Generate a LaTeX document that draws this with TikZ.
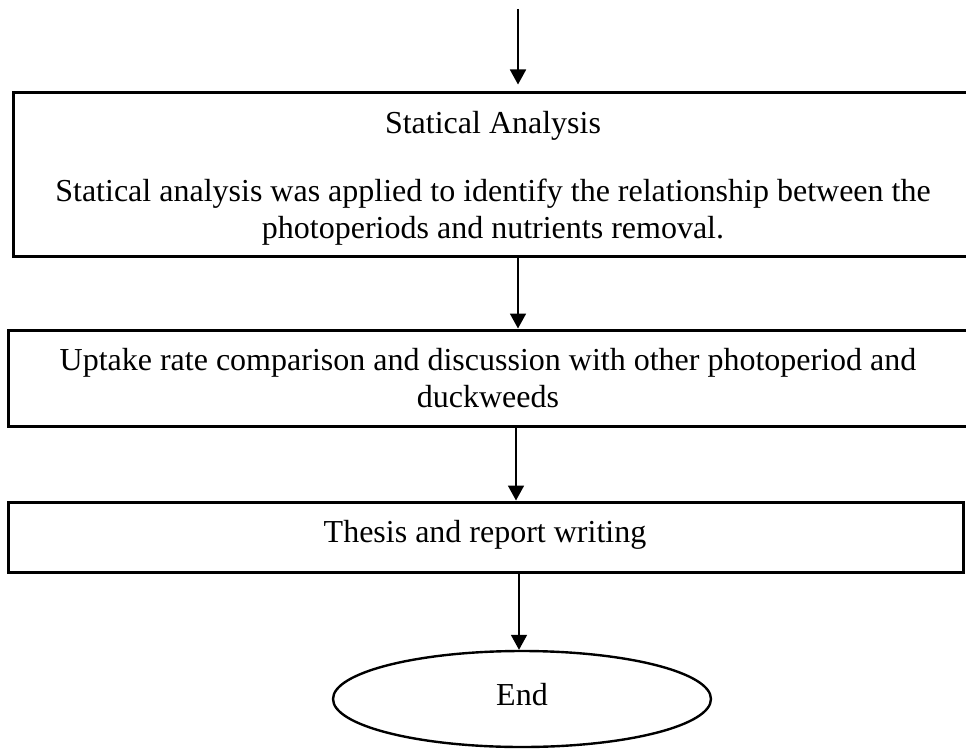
\documentclass[tikz,border=0pt]{standalone}
\usepackage{fontspec}
\setmainfont{Liberation Serif}
\usetikzlibrary{arrows.meta,shapes.geometric}
\begin{document}
\begin{tikzpicture}[x=1pt,y=-1pt,
  boxnode/.style={draw=black,line width=3pt,rectangle,inner sep=0pt},
  txt/.style={anchor=base,inner sep=0pt,font=\fontsize{32}{37}\selectfont},
  conn/.style={line width=1.8pt,-{Triangle[length=15pt,width=16pt]}},
  endnode/.style={draw=black,line width=2.4pt,ellipse,inner sep=0pt,minimum width=378pt,minimum height=96pt}]
\useasboundingbox (0,0) rectangle (966,752);
% boxes
\node[boxnode,minimum width=959pt,minimum height=164pt] (b1) at (492.5,174) {};
\node[boxnode,minimum width=960pt,minimum height=96pt] (b2) at (488,378) {};
\node[boxnode,minimum width=955pt,minimum height=70pt] (b3) at (485.5,537) {};
\node[endnode] (e) at (522,699) {};
% texts
\node[txt] (t1a) at (493,133) {Statical Analysis};
\node[txt] (t1b) at (493,201) {Statical analysis was applied to identify the relationship between the};
\node[txt] (t1c) at (493,238) {photoperiods and nutrients removal.};
\node[txt] (t2a) at (488,370) {Uptake rate comparison and discussion with other photoperiod and};
\node[txt] (t2b) at (488,407) {duckweeds};
\node[txt] (t3) at (485,542) {Thesis and report writing};
\node[txt] (t4) at (522,705) {End};
% connectors
\coordinate (s) at (518,9);
\coordinate (a2) at (518,0);
\coordinate (a3) at (516,0);
\coordinate (a4) at (519,0);
\draw[conn] (s) -- ([yshift=6pt]s |- b1.north);
\draw[conn] (a2 |- b1.south) -- (a2 |- b2.north);
\draw[conn] (a3 |- b2.south) -- (a3 |- b3.north);
\draw[conn] (a4 |- b3.south) -- (a4 |- e.north);
\end{tikzpicture}
\end{document}
